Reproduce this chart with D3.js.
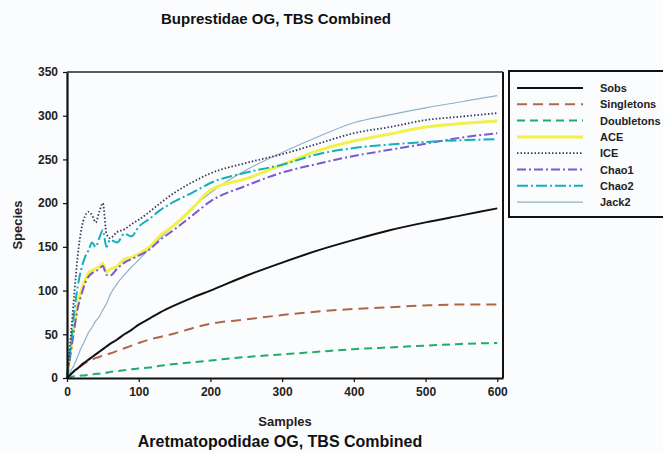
<!DOCTYPE html>
<html>
<head>
<meta charset="utf-8">
<script src="https://cdn.jsdelivr.net/npm/d3@7"></script>
<style>
  body { margin: 0; background: #fbfcfe; }
  svg { display: block; font-family: "Liberation Sans", Arial, sans-serif; }
  .tick text { font-size: 12px; font-weight: bold; fill: #222; }
</style>
</head>
<body>
<div id="chart"></div>
<script>
const samples = [0,5,10,15,20,25,30,35,40,45,50,55,60,70,80,90,100,115,130,150,175,200,250,300,350,400,450,500,550,600];

const sobs       = [0,4,8,11,15,18,21,24,27,30,33,36,39,44,50,55,61,68,75,83,92,100,117,132,146,158,169,178,186,194];
const singletons = [0,4,8,11,14,17,19,21,23,24,26,27,28,31,34,37,40,44,47,51,57,62,67,72,76,79,81,83,84,84];
const doubletons = [0,1,2,2,3,3,4,4,5,5,6,6,7,8,9,10,11,12,14,16,18,20,24,27,30,33,35,37,39,40];
const ace        = [0,30,60,85,100,112,120,123,125,127,131,121,124,128,136,138,142,150,163,175,194,215,228,244,260,271,279,287,291,294];
const ice        = [0,45,95,140,170,185,190,186,178,190,200,165,160,167,170,176,181,190,200,212,224,234,246,256,268,280,287,295,299,303];
const chao1      = [0,28,55,80,95,108,116,120,122,125,128,118,117,125,132,136,140,147,158,170,186,202,220,235,245,254,261,268,275,280];
const chao2      = [0,35,75,105,125,138,146,155,150,160,169,150,158,155,165,162,173,182,192,202,212,223,235,244,256,263,267,270,272,273];
const jack2      = [0,8,15,25,35,43,52,58,65,70,78,85,95,108,118,127,135,148,160,175,195,212,238,258,276,292,301,309,316,323];

const xTicks = [0,100,200,300,400,500,600];
const yTicks = [0,50,100,150,200,250,300,350];

const series = [
  { name: "Sobs",       values: sobs,       color: "#111111", width: 2,   dash: null },
  { name: "Singletons", values: singletons, color: "#b0644c", width: 2,   dash: "10,6" },
  { name: "Doubletons", values: doubletons, color: "#1fae6a", width: 2,   dash: "8,5" },
  { name: "ACE",        values: ace,        color: "#f4f04a", width: 3,   dash: null },
  { name: "ICE",        values: ice,        color: "#3a3a5a", width: 1.8, dash: "1.5,2" },
  { name: "Chao1",      values: chao1,      color: "#7a5ad0", width: 2,   dash: "9,3,2,3" },
  { name: "Chao2",      values: chao2,      color: "#12b0b8", width: 2,   dash: "11,3,2,3" },
  { name: "Jack2",      values: jack2,      color: "#8fb2c8", width: 1.2, dash: null }
];
const drawOrder = ["Jack2", "ACE", "Chao1", "Chao2", "ICE", "Doubletons", "Singletons", "Sobs"];

const width = 663, height = 452;

const svg = d3.select("#chart").append("svg")
  .attr("width", width).attr("height", height);

svg.append("rect").attr("width", width).attr("height", height).attr("fill", "#fbfcfe");

const x = d3.scaleLinear().domain([0, 608]).range([67, 503]);
const y = d3.scaleLinear().domain([0, 350]).range([378, 72]);

// frame top + right
svg.append("line").attr("x1", x(0)).attr("x2", x(608)).attr("y1", y(350)).attr("y2", y(350))
  .attr("stroke", "#1a2a2a").attr("stroke-width", 1.5);
svg.append("line").attr("x1", x(608)).attr("x2", x(608)).attr("y1", y(350)).attr("y2", y(0))
  .attr("stroke", "#111").attr("stroke-width", 2);

const line = d3.line()
  .x((d, i) => x(samples[i]))
  .y(d => y(d))
  .curve(d3.curveMonotoneX);

drawOrder.forEach(name => {
  const s = series.find(d => d.name === name);
  svg.append("path")
    .datum(s.values)
    .attr("d", line)
    .attr("fill", "none")
    .attr("stroke", s.color)
    .attr("stroke-width", s.width)
    .attr("stroke-dasharray", s.dash);
});

const xAxis = svg.append("g")
  .attr("transform", `translate(0,${y(0)})`)
  .call(d3.axisBottom(x).tickValues(xTicks).tickSize(4).tickPadding(5).tickSizeOuter(0));
const yAxis = svg.append("g")
  .attr("transform", `translate(${x(0)},0)`)
  .call(d3.axisLeft(y).tickValues(yTicks).tickSize(4).tickPadding(5).tickSizeOuter(0));
[xAxis, yAxis].forEach(a => {
  a.select(".domain").attr("stroke", "#111").attr("stroke-width", 2.2);
  a.selectAll(".tick line").attr("stroke", "#111").attr("stroke-width", 1.2);
});

svg.append("text")
  .attr("x", 285).attr("y", 426)
  .attr("text-anchor", "middle")
  .style("font-size", "13px").style("font-weight", "bold").attr("fill", "#222")
  .text("Samples");

svg.append("text")
  .attr("transform", "translate(22,225) rotate(-90)")
  .attr("text-anchor", "middle")
  .style("font-size", "13px").style("font-weight", "bold").attr("fill", "#222")
  .text("Species");

svg.append("text")
  .attr("x", 276).attr("y", 24)
  .attr("text-anchor", "middle")
  .style("font-size", "15px").style("font-weight", "bold").attr("fill", "#111")
  .text("Buprestidae OG, TBS Combined");

svg.append("text")
  .attr("x", 280).attr("y", 447)
  .attr("text-anchor", "middle")
  .style("font-size", "16px").style("font-weight", "bold").attr("fill", "#111")
  .text("Aretmatopodidae OG, TBS Combined");

// legend
const legend = svg.append("g").attr("transform", "translate(509,71)");
legend.append("rect")
  .attr("width", 160).attr("height", 146)
  .attr("fill", "#fbfcfe").attr("stroke", "#111").attr("stroke-width", 2);

series.forEach((s, i) => {
  const row = legend.append("g").attr("transform", `translate(0,${17 + i * 16.3})`);
  row.append("line")
    .attr("x1", 8).attr("x2", 74)
    .attr("stroke", s.color)
    .attr("stroke-width", s.name === "ACE" ? 3 : s.width)
    .attr("stroke-dasharray", s.dash);
  row.append("text")
    .attr("x", 91).attr("y", 4)
    .style("font-size", "11px").style("font-weight", "bold").attr("fill", "#222")
    .text(s.name);
});
</script>
</body>
</html>
